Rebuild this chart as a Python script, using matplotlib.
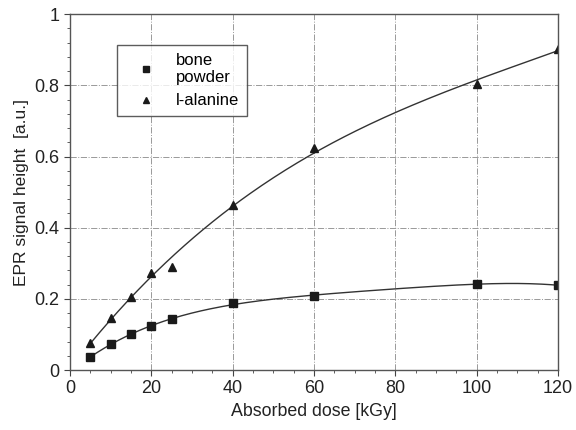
#!/usr/bin/env python3

import numpy as np
import matplotlib.pyplot as plt
from matplotlib.ticker import MultipleLocator

plt.rcParams['font.family'] = ['Liberation Sans', 'DejaVu Sans']

dose = [5, 10, 15, 20, 25, 40, 60, 100, 120]
bone = [0.037, 0.073, 0.100, 0.123, 0.143, 0.188, 0.208, 0.242, 0.238]
alanine = [0.076, 0.146, 0.205, 0.272, 0.290, 0.463, 0.625, 0.803, 0.903]

x_ticks = [0, 20, 40, 60, 80, 100, 120]
y_ticks = [0, 0.2, 0.4, 0.6, 0.8, 1]
y_labels = ['0', '0.2', '0.4', '0.6', '0.8', '1']


def fit_curve(x, y, deg):
    coef = np.polyfit(x, y, deg)
    xs = np.linspace(min(x), max(x), 200)
    return xs, np.polyval(coef, xs)


def main():
    fig = plt.figure(figsize=(5.76, 4.30), dpi=100)
    ax = fig.add_axes([0.1215, 0.1395, 0.8475, 0.8275])

    col = '#1a1a1a'
    xs, ys = fit_curve(dose, alanine, 3)
    ax.plot(xs, ys, color='#333333', lw=1.0)
    xs, ys = fit_curve(dose, bone, 4)
    ax.plot(xs, ys, color='#333333', lw=1.0)

    ax.plot(dose, bone, 's', color=col, ms=6, label='bone\npowder')
    ax.plot(dose, alanine, '^', color=col, ms=6, label='l-alanine')

    ax.set_xlim(0, 120)
    ax.set_ylim(0, 1)
    ax.set_xticks(x_ticks)
    ax.set_yticks(y_ticks)
    ax.set_yticklabels(y_labels)
    ax.xaxis.set_minor_locator(MultipleLocator(5))
    ax.yaxis.set_minor_locator(MultipleLocator(0.04))
    ax.tick_params(which='major', direction='out', length=4, labelsize=13,
                   color='#444444', labelcolor='#222222')
    ax.tick_params(which='minor', direction='out', length=2.5, color='#444444')

    ax.grid(True, which='major', color='#999999', lw=0.7, ls='-.')
    for s in ax.spines.values():
        s.set_color('#555555')
        s.set_linewidth(1.0)

    ax.set_xlabel('Absorbed dose [kGy]', fontsize=12.8, color='#222222')
    ax.set_ylabel('EPR signal height  [a.u.]', fontsize=12.5, color='#222222')

    leg = ax.legend(loc='upper left', bbox_to_anchor=(0.096, 0.913),
                    fontsize=12, frameon=True, fancybox=False,
                    edgecolor='#333333', handlelength=2.6, handletextpad=0.5,
                    borderpad=0.45, labelspacing=0.5, markerscale=0.8,
                    borderaxespad=0)
    leg.get_frame().set_linewidth(1.0)

    fig.savefig('out.png', dpi=100)


if __name__ == "__main__":
    main()
